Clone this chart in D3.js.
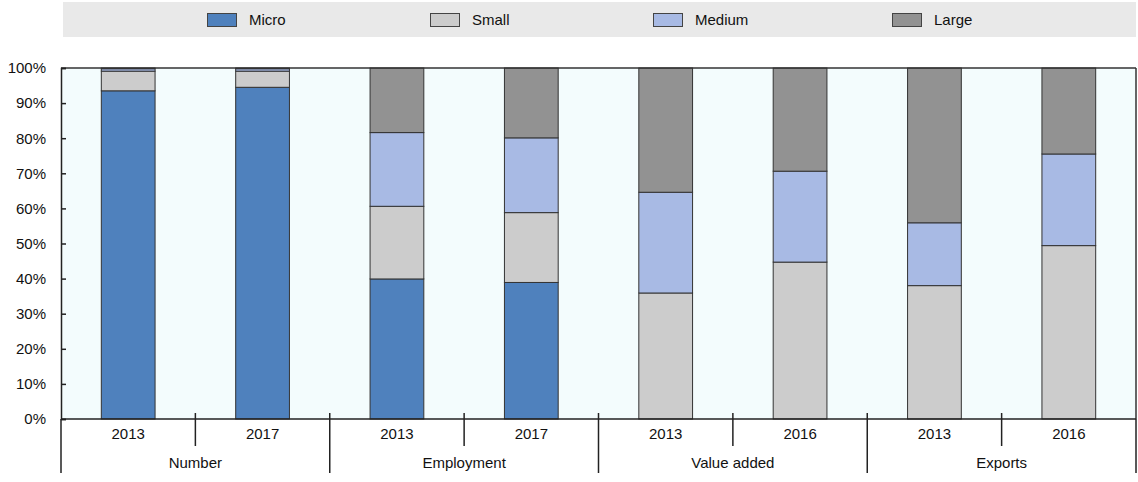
<!DOCTYPE html>
<html><head><meta charset="utf-8">
<script src="https://cdn.jsdelivr.net/npm/d3@7"></script>
<style>
body{margin:0;background:#fff;}
svg text{font-family:"Liberation Sans",Arial,sans-serif;fill:#111;}
</style></head>
<body><svg id="c" width="1138" height="482"></svg>
<script>
const groups = ["Number","Employment","Value added","Exports"];
const years = [["2013","2017"],["2013","2017"],["2013","2016"],["2013","2016"]];
const seriesNames = ["Micro","Small","Medium","Large"];
const micro  = [93.5, 94.5, 39.9, 38.9, 0, 0, 0, 0];
const small  = [5.6, 4.6, 20.7, 19.9, 35.9, 44.7, 38.0, 49.4];
const medium = [0.7, 0.7, 21.0, 21.3, 28.7, 25.9, 17.9, 26.1];
const large  = [0.2, 0.2, 18.4, 19.9, 35.4, 29.4, 44.1, 24.5];
const yTicks = [0,10,20,30,40,50,60,70,80,90,100];
const colors = ["#4f81bd","#cccccc","#a8bae4","#929292"];

const svg = d3.select("#c");
const L=61, R=1136, T=68, B=419;

const keys = [];
groups.forEach((g,i)=>years[i].forEach((y,j)=>keys.push(g+"|"+y)));
const rows = keys.map((k,i)=>({key:k, Micro:micro[i], Small:small[i], Medium:medium[i], Large:large[i]}));

const x = d3.scaleBand().domain(keys).range([L,R]).paddingInner(0.6).paddingOuter(0.3);
const y = d3.scaleLinear().domain([0,100]).range([B,T]);

// legend
svg.append("rect").attr("x",63).attr("y",2).attr("width",R-63).attr("height",35).attr("fill","#e9e9e9");
const legX = [207,430,653,892];
seriesNames.forEach((s,i)=>{
  svg.append("rect").attr("x",legX[i]+0.5).attr("y",13.5).attr("width",29).attr("height",13)
    .attr("fill",colors[i]).attr("stroke","#444").attr("stroke-width",1);
  svg.append("text").attr("x",legX[i]+42).attr("y",25).attr("font-size",15).text(s);
});

// plot bg
svg.append("rect").attr("x",L).attr("y",T).attr("width",R-L).attr("height",B-T).attr("fill","#f3fcfd");

// bars
const stack = d3.stack().keys(seriesNames)(rows);
stack.forEach((layer,i)=>{
  svg.append("g").selectAll("rect").data(layer).join("rect")
    .attr("x",d=>x(d.data.key))
    .attr("width",x.bandwidth())
    .attr("y",d=>y(d[1]))
    .attr("height",d=>Math.max(0,y(d[0])-y(d[1])))
    .attr("fill",colors[i])
    .attr("stroke",d=>(d[1]-d[0])>0?"#333":"none")
    .attr("stroke-width",1);
});

// frame: top and right
svg.append("line").attr("x1",L).attr("x2",R).attr("y1",T).attr("y2",T).attr("stroke","#333").attr("stroke-width",1.5);
svg.append("line").attr("x1",R).attr("x2",R).attr("y1",T).attr("y2",B).attr("stroke","#333").attr("stroke-width",1.5);

// y axis
const ya = svg.append("g").attr("transform",`translate(${L},0)`)
  .call(d3.axisLeft(y).tickValues(yTicks).tickFormat(d=>d+"%").tickSize(-5).tickPadding(15));
ya.select(".domain").attr("stroke","#222").attr("stroke-width",1.5);
ya.selectAll(".tick line").attr("stroke","#222").attr("stroke-width",1.5);
ya.selectAll("text").attr("font-size",15).attr("font-family","Liberation Sans, Arial, sans-serif").attr("fill","#111");

// x axis (years)
const xa = svg.append("g").attr("transform",`translate(0,${B})`)
  .call(d3.axisBottom(x).tickSize(0).tickPadding(9).tickFormat(k=>k.split("|")[1]));
xa.select(".domain").remove();
xa.selectAll("text").attr("font-size",15).attr("font-family","Liberation Sans, Arial, sans-serif").attr("fill","#111");
svg.append("line").attr("x1",L).attr("x2",R).attr("y1",B).attr("y2",B).attr("stroke","#222").attr("stroke-width",1.5);

// separators
const step = x.step();
const gw = step*2;
groups.forEach((g,i)=>{
  const gx = L + i*gw;
  svg.append("line").attr("x1",gx+step).attr("x2",gx+step).attr("y1",B-6).attr("y2",446).attr("stroke","#222").attr("stroke-width",1.5);
  svg.append("text").attr("x",gx+gw/2).attr("y",468).attr("text-anchor","middle").attr("font-size",15).text(g);
});
for(let i=0;i<=groups.length;i++){
  const gx = L + i*gw;
  svg.append("line").attr("x1",gx).attr("x2",gx).attr("y1",i===0||i===groups.length?B:B-6).attr("y2",473).attr("stroke","#222").attr("stroke-width",1.5);
}
</script></body></html>
